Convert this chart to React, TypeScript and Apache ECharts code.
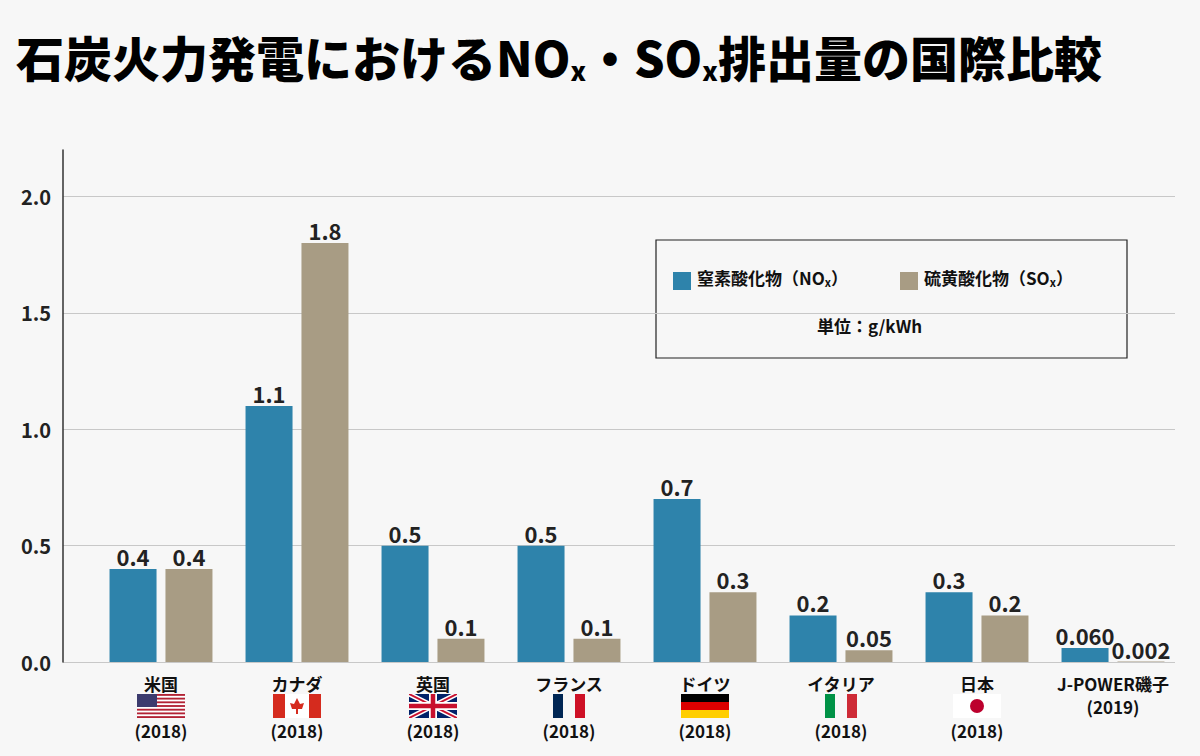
import React from "react";
import * as echarts from "echarts";

const countries = ["米国", "カナダ", "英国", "フランス", "ドイツ", "イタリア", "日本", "J-POWER磯子"];
const years = ["2018", "2018", "2018", "2018", "2018", "2018", "2018", "2019"];
const flags = ["us", "ca", "gb", "fr", "de", "it", "jp", ""];
const noxValues = [0.4, 1.1, 0.5, 0.5, 0.7, 0.2, 0.3, 0.06];
const soxValues = [0.4, 1.8, 0.1, 0.1, 0.3, 0.05, 0.2, 0.002];
const noxLabels = ["0.4", "1.1", "0.5", "0.5", "0.7", "0.2", "0.3", "0.060"];
const soxLabels = ["0.4", "1.8", "0.1", "0.1", "0.3", "0.05", "0.2", "0.002"];

const svg = (body: string) =>
  "data:image/svg+xml;charset=utf-8," +
  encodeURIComponent(`<svg xmlns="http://www.w3.org/2000/svg" width="48" height="24" viewBox="0 0 48 24">${body}</svg>`);

const flagSvg: Record<string, string> = {
  us: svg(
    `<rect width="48" height="24" fill="#fff"/>` +
      Array.from({ length: 7 }, (_, i) => `<rect x="0" y="${(i * 24) / 6.5}" width="48" height="${24 / 13}" fill="#b22234"/>`).join("") +
      `<rect x="0" y="0" width="20" height="13" fill="#3c3b6e"/>`
  ),
  ca: svg(`<rect width="48" height="24" fill="#fff"/><rect width="12" height="24" fill="#d52b1e"/><rect x="36" width="12" height="24" fill="#d52b1e"/><polygon points="24,4 27,10 31,9 29,15 25,15 25,20 23,20 23,15 19,15 17,9 21,10" fill="#d52b1e"/>`),
  gb: svg(`<rect width="48" height="24" fill="#012169"/><path d="M0,0 L48,24 M48,0 L0,24" stroke="#fff" stroke-width="5"/><path d="M0,0 L48,24 M48,0 L0,24" stroke="#c8102e" stroke-width="2"/><path d="M24,0 V24 M0,12 H48" stroke="#fff" stroke-width="8"/><path d="M24,0 V24 M0,12 H48" stroke="#c8102e" stroke-width="4.5"/>`),
  fr: svg(`<rect x="8" width="10" height="24" fill="#002654"/><rect x="18" width="12" height="24" fill="#f7f7f7"/><rect x="30" width="10" height="24" fill="#ce1126"/>`),
  de: svg(`<rect width="48" height="8" fill="#000"/><rect y="8" width="48" height="8" fill="#dd0000"/><rect y="16" width="48" height="8" fill="#ffce00"/>`),
  it: svg(`<rect x="8" width="10" height="24" fill="#009246"/><rect x="18" width="12" height="24" fill="#f7f7f7"/><rect x="30" width="10" height="24" fill="#ce2b37"/>`),
  jp: svg(`<rect width="48" height="24" fill="#fff"/><circle cx="24" cy="12" r="7" fill="#bc002d"/>`),
};

const BLUE = "#2e83ab";
const TAN = "#a89c84";
const FONT = "'Noto Sans CJK JP', 'Noto Sans', sans-serif";

export default function App() {
  const chartRef = React.useRef<HTMLDivElement>(null);
  React.useEffect(() => {
    const chart = echarts.init(chartRef.current, null, { renderer: "svg" });
    const rich: Record<string, any> = {
      n: { fontSize: 17, fontWeight: "bold", color: "#111", fontFamily: FONT, lineHeight: 22 },
      y: { fontSize: 17, fontWeight: "bold", color: "#111", fontFamily: FONT, lineHeight: 24 },
    };
    Object.keys(flagSvg).forEach((k) => {
      rich["f_" + k] = { height: 24, width: 48, backgroundColor: { image: flagSvg[k] } };
    });
    const valueLabel = (labels: string[]) => ({
      show: true,
      position: "top" as const,
      distance: 2,
      formatter: (p: any) => labels[p.dataIndex],
      fontSize: 22,
      fontWeight: "bold" as const,
      color: "#222",
      fontFamily: FONT,
    });
    const legendText = (x: number, y: number, main: string) => ({
      type: "text",
      left: x,
      top: y,
      style: {
        text: `{a|${main}}{s|x}{a|）}`,
        rich: {
          a: { fontSize: 17, fontWeight: "bold", fill: "#111", fontFamily: FONT },
          s: { fontSize: 11, fontWeight: "bold", fill: "#111", fontFamily: FONT, padding: [10, 0, 0, 0] },
        },
      },
    });
    chart.setOption({
      animation: false,
      backgroundColor: "#f7f7f7",
      grid: [
        { left: 63, right: 25, top: 150, bottom: 94 },
        { left: 93, right: 19, top: 150, bottom: 94 },
      ],
      xAxis: [
        { gridIndex: 0, type: "category", data: [""], show: false },
        {
          gridIndex: 1,
          type: "category",
          data: countries,
          axisLine: { show: false },
          axisTick: { show: false },
          axisLabel: {
            margin: 10,
            interval: 0,
            formatter: (v: string, i: number) =>
              flags[i] ? `{n|${v}}\n{f_${flags[i]}|}\n{y|(${years[i]})}` : `{n|${v}}\n{y|(${years[i]})}`,
            rich,
          },
        },
      ],
      yAxis: [
        {
          gridIndex: 0,
          type: "value",
          min: 0,
          max: 2.2,
          interval: 0.5,
          axisLine: { show: true, lineStyle: { color: "#333", width: 1.5 } },
          axisTick: { show: false },
          splitLine: { showMaxLine: false, lineStyle: { color: "#c8c8c8" } },
          axisLabel: {
            showMaxLabel: false,
            formatter: (v: number) => v.toFixed(1),
            fontSize: 20,
            fontWeight: "bold",
            color: "#222",
            fontFamily: FONT,
            margin: 12,
          },
        },
        { gridIndex: 1, type: "value", min: 0, max: 2.2, show: false },
      ],
      series: [
        { type: "line", xAxisIndex: 0, yAxisIndex: 0, data: [] },
        {
          type: "bar",
          xAxisIndex: 1,
          yAxisIndex: 1,
          data: noxValues,
          barWidth: 47,
          barGap: "19%",
          itemStyle: { color: BLUE },
          label: valueLabel(noxLabels),
        },
        {
          type: "bar",
          xAxisIndex: 1,
          yAxisIndex: 1,
          data: soxValues,
          barWidth: 47,
          itemStyle: { color: TAN },
          label: valueLabel(soxLabels),
        },
      ],
      graphic: [
        {
          type: "text",
          left: 16,
          top: 32,
          style: {
            text: "{a|石炭火力発電におけるNO}{s|x}{a|・SO}{s|x}{a|排出量の国際比較}",
            rich: {
              a: { fontSize: 48, fontWeight: 900, fill: "#000", fontFamily: FONT },
              s: { fontSize: 26, fontWeight: 900, fill: "#000", fontFamily: FONT, padding: [26, 0, 0, 0] },
            },
          },
        },
        {
          type: "rect",
          shape: { x: 656, y: 240, width: 471, height: 118 },
          style: { fill: "#f7f7f7", stroke: "#222", lineWidth: 1.2 },
        },
        { type: "rect", shape: { x: 673, y: 272, width: 18, height: 18 }, style: { fill: BLUE } },
        legendText(697, 269, "窒素酸化物（NO"),
        { type: "rect", shape: { x: 900, y: 272, width: 18, height: 18 }, style: { fill: TAN } },
        legendText(924, 269, "硫黄酸化物（SO"),
        {
          type: "text",
          left: 817,
          top: 317,
          style: { text: "単位：g/kWh", fontSize: 17, fontWeight: "bold", fill: "#111", fontFamily: FONT },
        },
      ],
    });
    return () => chart.dispose();
  }, []);
  return (
    <div
      ref={chartRef}
      style={{ position: "absolute", left: 0, top: 0, width: 1200, height: 756, background: "#f7f7f7" }}
    />
  );
}
